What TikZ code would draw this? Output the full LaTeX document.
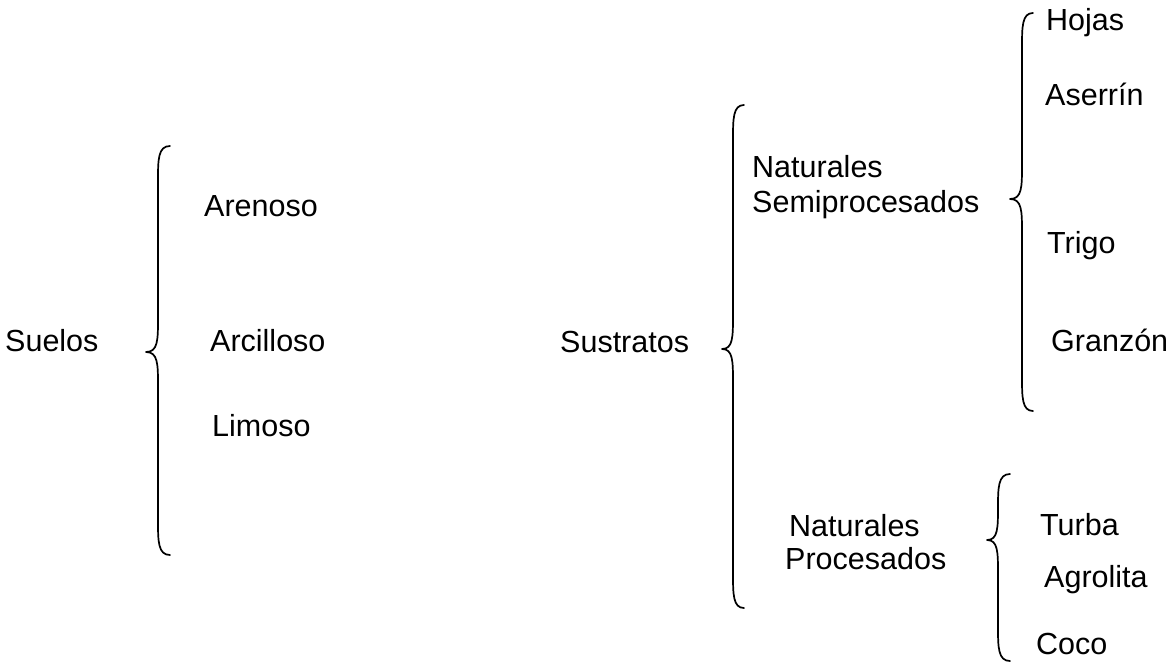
\documentclass[tikz,border=0pt]{standalone}
\usepackage{fontspec}
\setmainfont{Liberation Sans}
\begin{document}
% Left curly brace: end x, stem x, tip x, top y, tip y, bottom y
\newcommand\leftcurly[6]{%
  \draw[bracestroke]
    (#1,#4) .. controls (#2,#4) and (#2,#4+14) .. (#2,#4+34)
    -- (#2,#5-34) .. controls (#2,#5-12) and (#2,#5) .. (#3,#5)
    .. controls (#2,#5) and (#2,#5+12) .. (#2,#5+34)
    -- (#2,#6-34) .. controls (#2,#6-14) and (#2,#6) .. (#1,#6);}
\begin{tikzpicture}[x=1pt,y=-1pt,
    label/.style={anchor=base west,inner sep=0pt,font=\fontsize{30.5}{35}\selectfont},
    bracestroke/.style={line width=1.7pt,line cap=round,line join=round}]
  \useasboundingbox[fill=white] (0,0) rectangle (1172,664);

  % Suelos
  \node[label] (suelos) at (5,351) {Suelos};
  \leftcurly{170}{158}{146}{146}{352}{555}
  \node[label] (arenoso) at (204,216) {Arenoso};
  \node[label] (arcilloso) at (210,351) {Arcilloso};
  \node[label] (limoso) at (212,436) {Limoso};

  % Sustratos
  \node[label] (sustratos) at (560,352) {Sustratos};
  \leftcurly{744}{733}{722}{105}{349}{608}

  % Naturales semiprocesados
  \node[label] (nsp1) at (752,177) {Naturales};
  \node[label] (nsp2) at (752,212) {Semiprocesados};
  \leftcurly{1033}{1022}{1010}{13}{199}{411}
  \node[label] (hojas) at (1046,30) {Hojas};
  \node[label] (aserrin) at (1045,105) {Aserrín};
  \node[label] (trigo) at (1047,253) {Trigo};
  \node[label] (granzon) at (1051,351) {Granzón};

  % Naturales procesados
  \node[label] (np1) at (789,536) {Naturales};
  \node[label] (np2) at (785,569) {Procesados};
  \leftcurly{1010}{998}{987}{474}{540}{661}
  \node[label] (turba) at (1040,535) {Turba};
  \node[label] (agrolita) at (1044,587) {Agrolita};
  \node[label] (coco) at (1036,654) {Coco};
\end{tikzpicture}
\end{document}
